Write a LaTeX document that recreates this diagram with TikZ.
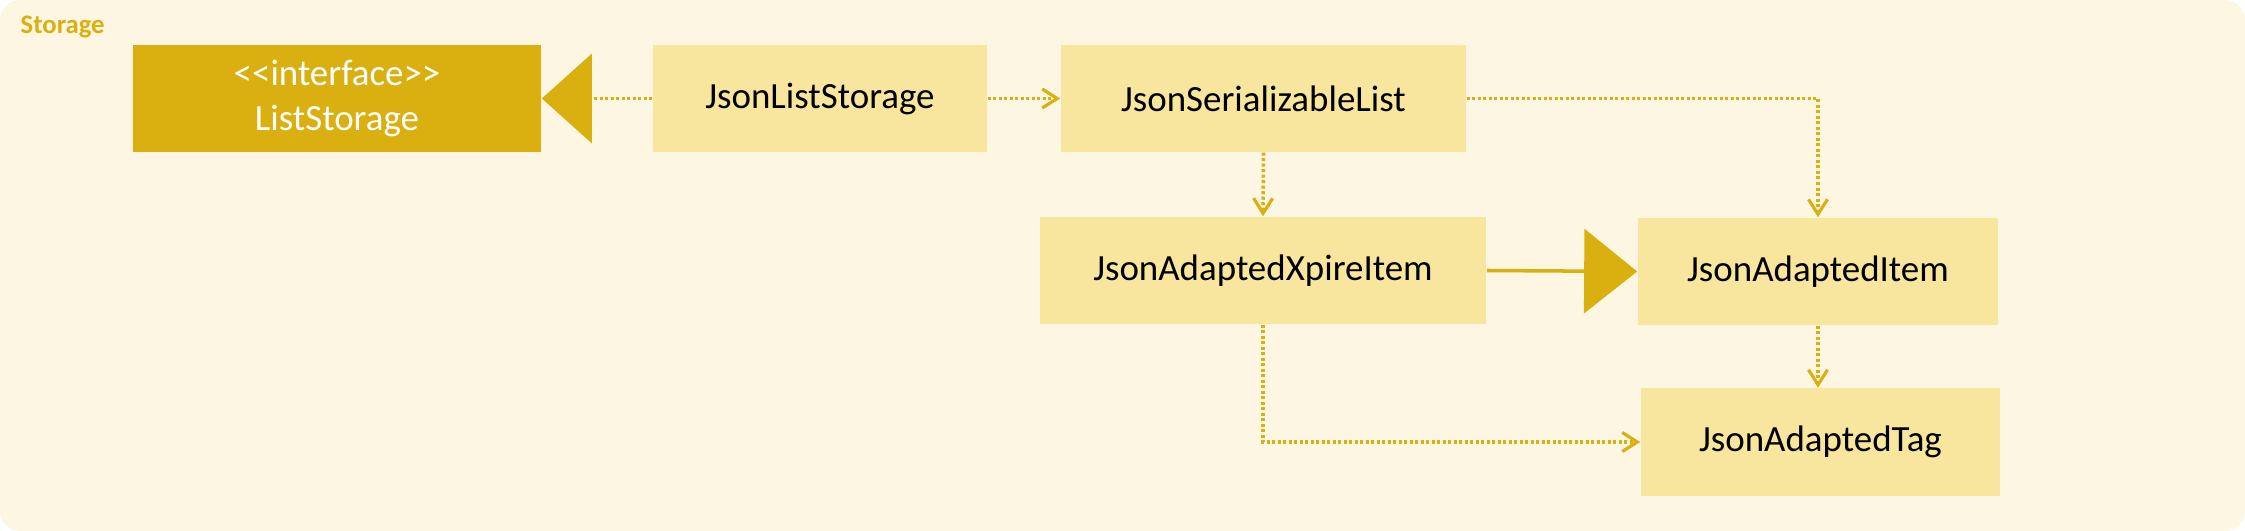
\documentclass[tikz,border=0pt]{standalone}
\usepackage{fontspec}
\setmainfont{Carlito}
\usepackage{tikz}
\usetikzlibrary{arrows.meta,positioning,calc}
\definecolor{stback}{RGB}{253,246,226}
\definecolor{stbox}{RGB}{248,230,158}
\definecolor{stdark}{RGB}{218,175,16}
\tikzset{
  clsbox/.style={rectangle,fill=stbox,minimum height=1.07cm,inner sep=0pt,font=\fontsize{10.5}{13}\selectfont},
  ifcbox/.style={clsbox,fill=stdark,text=white,align=center},
  arcdep/.style={-{Straight Barb[length=0.15cm,width=0.19cm,line width=0.9pt]},stdark,line width=1pt,dash pattern=on 0.03cm off 0.025cm},
  arcreal/.style={-{Triangle[length=0.5cm,width=0.89cm]},stdark,line width=1pt,dash pattern=on 0.03cm off 0.025cm},
  arcinh/.style={-{Triangle[length=0.53cm,width=0.84cm]},stdark,line width=1pt}
}

\begin{document}
\begin{tikzpicture}[x=0.01cm,y=-0.01cm]
  \useasboundingbox (0,0) rectangle (2245,531);
  \fill[stback,rounded corners=0.2cm] (0,0) rectangle (2245,531);
  \node[anchor=base west,inner sep=0pt,text=stdark,font=\fontsize{7.6}{9}\selectfont\bfseries] (stlab) at (20,34) {Storage};
  \node[ifcbox,minimum width=4.08cm] (ls) at (337,98.5) {{<}{<}interface{>}{>}\\ListStorage};
  \node[clsbox,minimum width=3.34cm] (jls) at (820,98.5) {JsonListStorage};
  \node[clsbox,minimum width=4.05cm] (jsl) at (1263.5,98.5) {JsonSerializableList};
  \node[clsbox,minimum width=4.46cm] (jaxi) at (1263,270.5) {JsonAdaptedXpireItem};
  \node[clsbox,minimum width=3.6cm] (jai) at (1818,271.5) {JsonAdaptedItem};
  \node[clsbox,minimum width=3.59cm] (jat) at (1820.5,442) {JsonAdaptedTag};
  \draw[arcreal] (jls.west) -- (ls.east);
  \draw[arcdep] (jls.east) -- (jsl.west);
  \draw[arcdep] (jsl.east) -| (jai.north);
  \draw[arcdep] (jsl.south) -- (jaxi.north);
  \draw[arcinh] (jaxi.east) -- (jai.west);
  \draw[arcdep] (jai.south) -- (jai.south |- jat.north);
  \draw[arcdep] (jaxi.south) |- (jat.west);
\end{tikzpicture}
\end{document}
